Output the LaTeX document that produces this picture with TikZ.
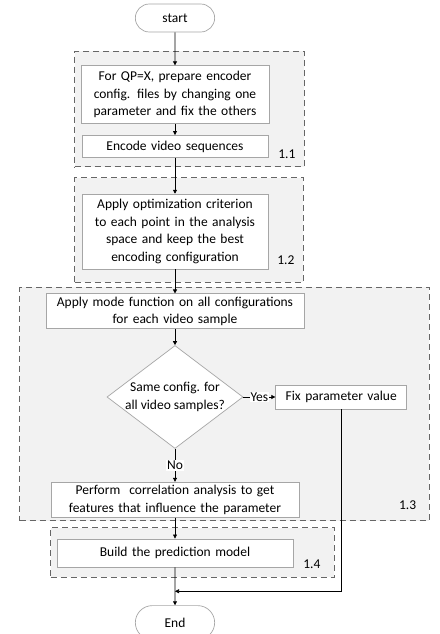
\documentclass[tikz,border=0pt]{standalone}
\usepackage{fontspec}
\setmainfont{Carlito}
\usepackage{tikz}
\usetikzlibrary{positioning,arrows.meta,fit,backgrounds,shapes.geometric,shapes.misc,calc}
\definecolor{grpfill}{HTML}{F2F2F2}
\definecolor{grpline}{HTML}{666666}
\definecolor{boxline}{HTML}{A6A6A6}

\begin{document}
\begin{tikzpicture}[
  font=\fontsize{13.5}{17.5}\selectfont,
  box/.style={draw=boxline, fill=white, align=center, inner sep=2pt},
  term/.style={draw=boxline, fill=white, rounded rectangle,
               minimum width=86pt, minimum height=28pt},
  cond/.style={draw=boxline, fill=white, diamond, align=center, aspect=1.32,
               inner xsep=-16pt, inner ysep=0pt,
               minimum width=136pt, minimum height=103pt},
  grp/.style={draw=grpline, dash pattern=on 6pt off 4pt, fill=grpfill,
              line width=0.9pt, inner sep=0pt},
  tag/.style={anchor=south east, inner sep=1pt},
  lbl/.style={fill=white, inner sep=1pt},
  >={Triangle[length=4pt,width=4pt]},
  line width=0.7pt
]
\useasboundingbox (-175pt,18pt) rectangle (264pt,-616pt);

% Main column
\node[term] (start) {start};
\node[box, text width=184pt, minimum height=58pt, below=33pt of start] (prep)
  {For QP=X, prepare encoder\\config. files by changing one\\parameter and fix the others};
\node[box, text width=182pt, minimum height=22pt, below=11pt of prep] (encode)
  {Encode video sequences};
\node[box, text width=182pt, minimum height=75pt, below=36pt of encode] (optim)
  {Apply optimization criterion\\to each point in the analysis\\space and keep the best\\encoding configuration};
\node[box, text width=254pt, minimum height=35pt, below=24pt of optim] (mode)
  {Apply mode function on all configurations\\for each video sample};
\node[cond, below=16pt of mode] (same) {Same config. for\\all video samples?};
\node[box, text width=127pt, minimum height=24pt, right=32pt of same] (fix)
  {Fix parameter value};
\node[box, text width=244pt, minimum height=35pt, below=33pt of same] (corr)
  {Perform~ correlation analysis to get\\features that influence the parameter};
\node[box, text width=232pt, minimum height=28pt, below=21pt of corr] (build)
  {Build the prediction model};
\node[term, minimum height=34pt, below=38pt of build] (end) {End};
\coordinate[below=24pt of build] (join);

% Stage groups
\coordinate (g11a) at ($(prep.north west)+(-6pt,14pt)$);
\coordinate (g11b) at ($(encode.south east)+(36pt,-9pt)$);
\coordinate (g12a) at ($(optim.north west)+(-7pt,16pt)$);
\coordinate (g12b) at ($(optim.south east)+(35pt,-13pt)$);
\coordinate (g13a) at ($(mode.north west)+(-26pt,6pt)$);
\coordinate (g13b) at ($(fix.east |- corr.south)+(22pt,-3pt)$);
\coordinate (g14a) at ($(build.north west)+(-6pt,11pt)$);
\coordinate (g14b) at ($(build.south east)+(41pt,-10pt)$);

\begin{scope}[on background layer]
\node[grp, fit=(g11a)(g11b)] (g11) {};
\node[grp, fit=(g12a)(g12b)] (g12) {};
\node[grp, fit=(g13a)(g13b)] (g13) {};
\node[grp, fit=(g14a)(g14b)] (g14) {};
\end{scope}

\node[tag] at ([shift={(-8pt,7.5pt)}]g11.south east) {1.1};
\node[tag] at ([shift={(-8pt,17pt)}]g12.south east) {1.2};
\node[tag] at ([shift={(-12pt,10pt)}]g13.south east) {1.3};
\node[tag] at ([shift={(-13pt,8pt)}]g14.south east) {1.4};

% edges
\draw[->] (start) -- (prep);
\draw[->] (prep) -- (encode);
\draw[->] (encode) -- (optim);
\draw[->] (optim) -- (mode);
\draw[->] (mode) -- (same);
\draw[->] (same) -- node[lbl]{Yes} (fix);
\draw[->] (same) -- node[lbl]{No} (corr);
\draw[->] (corr) -- (build);
\draw[->] (build) -- (end);
\draw[->] (fix) |- (join);
\end{tikzpicture}
\end{document}
